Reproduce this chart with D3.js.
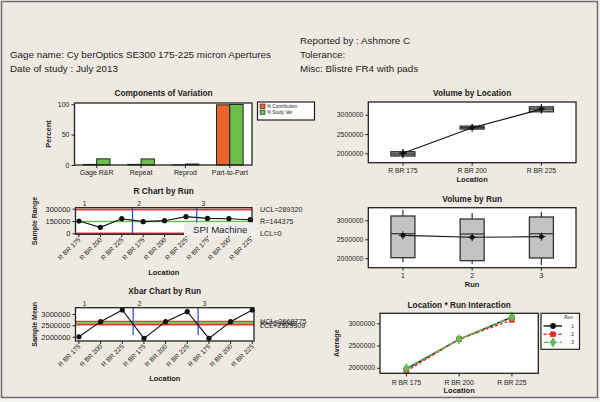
<!DOCTYPE html>
<html><head><meta charset="utf-8">
<script src="https://cdn.jsdelivr.net/npm/d3@7/dist/d3.min.js"></script>
<style>
body{margin:0;background:#fff}
svg{display:block}
text{font-family:"Liberation Sans",Arial,sans-serif;fill:#222}
</style>
</head><body>
<svg id="c" width="600" height="402"></svg>
<script>
// ---------------- DATA ----------------
const headerLeft = ["Gage name: Cy berOptics SE300 175-225 micron Apertures", "Date of study : July  2013"];
const headerRight = ["Reported by : Ashmore C", "Tolerance:", "Misc: Blistre FR4 with pads"];

const compCategories = ["Gage R&R", "Repeat", "Reprod", "Part-to-Part"];
const compSeries = ["% Contribution", "% Study Var"];
const pctContribution = [1.0, 1.0, 0.1, 99.0];
const pctStudyVar = [10.1, 10.0, 1.6, 99.6];
const compTicks = [0, 50, 100];

const locations = ["R BR 175", "R BR 200", "R BR 225"];
const runs = ["1", "2", "3"];

const rValues = [150000, 73000, 178000, 142000, 154000, 203000, 182000, 178000, 166000];
const rLimitValues = [289320, 144375, 0];           // UCL, center, LCL
const rLimitLabels = ["UCL=289320", "R\u0304=144375", "LCL=0"];
const rTicks = [0, 150000, 300000];

const xbarValues = [1995000, 2662000, 3176000, 1926000, 2662000, 3103000, 1926000, 2662000, 3176000];
const xbarLimitValues = [2668775, 2599042, 2529309]; // UCL, center, LCL
const xbarLimitLabels = ["UCL=2668775", "X\u0304=2599042", "LCL=2529309"];
const xbarTicks = [2000000, 2500000, 3000000];

const locMin  = [1871000, 2602000, 3034000];
const locQ1   = [1930000, 2628000, 3075000];
const locMed  = [1982000, 2665000, 3145000];
const locQ3   = [2041000, 2705000, 3204000];
const locMax  = [2103000, 2750000, 3274000];
const locMean = [2000000, 2661000, 3145000];

const runMin  = [1895000, 1858000, 1824000];
const runQ1   = [2016000, 1937000, 2008000];
const runMed  = [2647000, 2640000, 2647000];
const runQ3   = [3113000, 3034000, 3087000];
const runMax  = [3271000, 3192000, 3228000];
const runMean = [2603000, 2553000, 2570000];

const volTicks = [2000000, 2500000, 3000000];

const interRun1 = [1975000, 2640000, 3140000];
const interRun2 = [1925000, 2645000, 3075000];
const interRun3 = [1988000, 2640000, 3150000];

// ---------------- STYLE ----------------
const ORANGE = "#ec632c", GREEN = "#6cc04a", RED = "#e23a34", BLUE = "#3a4fd0";
const svg = d3.select("#c");

svg.append("rect").attr("width", 600).attr("height", 402).attr("fill", "#f4f2ee");
svg.append("rect").attr("x", 1.5).attr("y", 1.5).attr("width", 596).attr("height", 396)
  .attr("fill", "#eeeae1").attr("stroke", "#6e6e6e").attr("stroke-width", 1.5);

// header
headerLeft.forEach((t, i) => svg.append("text").attr("x", 10).attr("y", 57.5 + i * 14)
  .attr("font-size", 9.8).text(t));
headerRight.forEach((t, i) => svg.append("text").attr("x", 300).attr("y", 43.5 + i * 14)
  .attr("font-size", 9.8).text(t));

function title(x, y, t) {
  svg.append("text").attr("x", x).attr("y", y).attr("text-anchor", "middle")
    .attr("font-size", 8.3).attr("font-weight", "bold").text(t);
}
function plotBg(x0, y0, x1, y1) {
  svg.append("rect").attr("x", x0).attr("y", y0).attr("width", x1 - x0).attr("height", y1 - y0).attr("fill", "#fff");
}
function plotBorder(x0, y0, x1, y1) {
  svg.append("rect").attr("x", x0).attr("y", y0).attr("width", x1 - x0).attr("height", y1 - y0)
    .attr("fill", "none").attr("stroke", "#222").attr("stroke-width", 1.3);
}
function yAxis(scale, x, ticks, fs) {
  const g = svg.append("g").attr("transform", `translate(${x},0)`)
    .call(d3.axisLeft(scale).tickValues(ticks).tickSize(3).tickPadding(2).tickFormat(d3.format("d")));
  g.select(".domain").remove();
  g.selectAll("line").attr("stroke", "#222");
  g.selectAll("text").attr("font-size", fs).attr("font-family", null).attr("fill", "#222");
  g.attr("font-family", null);
}
function xTicks(pos, y, values) {
  values.forEach(v => svg.append("line").attr("x1", pos(v)).attr("x2", pos(v))
    .attr("y1", y).attr("y2", y + 3).attr("stroke", "#222"));
}
function yLabel(x, y, t, fs) {
  svg.append("text").attr("transform", `translate(${x},${y}) rotate(-90)`).attr("text-anchor", "middle")
    .attr("font-size", fs).attr("font-weight", "bold").text(t);
}
function xLabel(x, y, t) {
  svg.append("text").attr("x", x).attr("y", y).attr("text-anchor", "middle")
    .attr("font-size", 7.5).attr("font-weight", "bold").text(t);
}

// ---------------- COMPONENTS OF VARIATION ----------------
{
  const X0 = 74.5, X1 = 252, Y0 = 103, Y1 = 165;
  const x = d3.scaleBand().domain(compCategories).range([X0, X1]).paddingInner(0.4).paddingOuter(0.2);
  const xs = d3.scaleBand().domain(compSeries).range([0, x.bandwidth()]);
  const y = d3.scaleLinear().domain([0, 102]).range([Y1, Y0]);
  plotBg(X0, Y0, X1, Y1);
  const seriesVals = [pctContribution, pctStudyVar];
  const colors = [ORANGE, GREEN];
  compSeries.forEach((s, si) => {
    svg.selectAll(null).data(compCategories).enter().append("rect")
      .attr("x", d => x(d) + xs(s)).attr("width", xs.bandwidth())
      .attr("y", (d, i) => y(seriesVals[si][i])).attr("height", (d, i) => Y1 - y(seriesVals[si][i]))
      .attr("fill", colors[si]).attr("stroke", "#222").attr("stroke-width", 1);
  });
  plotBorder(X0, Y0, X1, Y1);
  yAxis(y, X0, compTicks, 7);
  xTicks(d => x(d) + x.bandwidth() / 2, Y1, compCategories);
  compCategories.forEach(c => svg.append("text").attr("x", x(c) + x.bandwidth() / 2).attr("y", 174.5)
    .attr("text-anchor", "middle").attr("font-size", 7).text(c));
  yLabel(50.5, 134, "Percent", 7.5);
  title(163.5, 96, "Components of Variation");
  // legend
  const lg = svg.append("g");
  lg.append("rect").attr("x", 257.5).attr("y", 102).attr("width", 57).attr("height", 18)
    .attr("fill", "#fff").attr("stroke", "#222").attr("stroke-width", 1.2);
  compSeries.forEach((s, i) => {
    lg.append("rect").attr("x", 260).attr("y", 104 + i * 6).attr("width", 5).attr("height", 4.5)
      .attr("fill", colors[i]).attr("stroke", "#222").attr("stroke-width", 0.6);
    lg.append("text").attr("x", 267).attr("y", 108 + i * 6).attr("font-size", 4.6).text(s);
  });
}

// ---------------- R / XBAR CHARTS ----------------
function controlChart(cfg) {
  const { X0, X1, Y0, Y1, domain, values, limits, limitColors, labels, ticks, labelYOffsets, titleY, titleText, yLab, labY, blueCut } = cfg;
  const n = values.length;
  const x = d3.scaleLinear().domain([-0.16, n - 1 + 0.08]).range([X0, X1]);
  const y = d3.scaleLinear().domain(domain).range([Y1, Y0]);
  plotBg(X0, Y0, X1, Y1);
  limits.forEach((v, i) => svg.append("line").attr("x1", X0).attr("x2", X1).attr("y1", y(v)).attr("y2", y(v))
    .attr("stroke", limitColors[i]).attr("stroke-width", 1.6));
  const groups = runs.length, per = locations.length;
  for (let k = 1; k < groups; k++) {
    svg.append("line").attr("x1", x(k * per - 0.5)).attr("x2", x(k * per - 0.5))
      .attr("y1", Y0).attr("y2", Y1 - blueCut).attr("stroke", BLUE).attr("stroke-width", 1.3);
  }
  svg.append("path").datum(values).attr("fill", "none").attr("stroke", "#111").attr("stroke-width", 1.1)
    .attr("d", d3.line().x((d, i) => x(i)).y(d => y(d)));
  svg.selectAll(null).data(values).enter().append("circle")
    .attr("cx", (d, i) => x(i)).attr("cy", d => y(d)).attr("r", 2.6).attr("fill", "#111");
  plotBorder(X0, Y0, X1, Y1);
  yAxis(y, X0, ticks, 7.5);
  const idx = d3.range(n);
  xTicks(x, Y1, idx);
  idx.forEach(i => svg.append("text")
    .attr("transform", `translate(${x(i) + 2},${Y1 + 6}) rotate(-45)`)
    .attr("text-anchor", "end").attr("font-size", 6.6).text(locations[i % per]));
  runs.forEach((r, k) => svg.append("text").attr("x", k === 0 ? X0 + 9 : x(k * per - 0.5) + 6.5)
    .attr("y", Y0 - 1.8).attr("text-anchor", "middle").attr("font-size", 6.5).text(r));
  labels.forEach((t, i) => svg.append("text").attr("x", 260).attr("y", y(limits[i]) + 2.5 + labelYOffsets[i])
    .attr("font-size", 7.2).attr("fill", "#333").text(t));
  title((X0 + X1) / 2, titleY, titleText);
  yLabel(37, (Y0 + Y1) / 2, yLab, 7);
  xLabel((X0 + X1) / 2, labY, "Location");
}

controlChart({
  X0: 75.5, X1: 252, Y0: 207.7, Y1: 234.3, domain: [-12200, 312200],
  values: rValues, limits: rLimitValues, limitColors: [RED, GREEN, RED], labels: rLimitLabels,
  ticks: rTicks, labelYOffsets: [0, 0, 0], titleY: 193.5, titleText: "R Chart by Run", yLab: "Sample Range", labY: 275, blueCut: 0
});

controlChart({
  X0: 75.5, X1: 254, Y0: 307.7, Y1: 341, domain: [1810000, 3277500],
  values: xbarValues, limits: [xbarLimitValues[0], xbarLimitValues[2], xbarLimitValues[1]],
  limitColors: [RED, RED, GREEN], labels: [xbarLimitLabels[0], xbarLimitLabels[2], xbarLimitLabels[1]],
  ticks: xbarTicks, labelYOffsets: [-0.5, 0.5, 0], titleY: 294, titleText: "Xbar Chart by Run", yLab: "Sample Mean", labY: 381, blueCut: 6
});

// SPI Machine annotation
svg.append("rect").attr("x", 184).attr("y", 222.5).attr("width", 73).attr("height", 13.5).attr("fill", "#efefed");
svg.append("text").attr("x", 193).attr("y", 233).attr("font-size", 9.6).attr("fill", "#333").text("SPI Machine");

// ---------------- BOX PLOTS ----------------
function boxPanel(cfg) {
  const { X0, X1, Y0, Y1, domain, cats, mins, q1, med, q3, maxs, means, fill, titleY, titleText, tickY, labText, labY } = cfg;
  const x = d3.scalePoint().domain(cats).range([X0, X1]).padding(0.5);
  const y = d3.scaleLinear().domain(domain).range([Y1, Y0]);
  plotBg(X0, Y0, X1, Y1);
  const bw = 24;
  cats.forEach((c, i) => {
    const cx = x(c);
    svg.append("line").attr("x1", cx).attr("x2", cx).attr("y1", y(maxs[i])).attr("y2", y(q3[i])).attr("stroke", "#333").attr("stroke-width", 1.2);
    svg.append("line").attr("x1", cx).attr("x2", cx).attr("y1", y(q1[i])).attr("y2", y(mins[i])).attr("stroke", "#333").attr("stroke-width", 1.2);
    svg.append("rect").attr("x", cx - bw / 2).attr("width", bw).attr("y", y(q3[i])).attr("height", y(q1[i]) - y(q3[i]))
      .attr("fill", fill).attr("stroke", "#333").attr("stroke-width", 1.3);
    svg.append("line").attr("x1", cx - bw / 2).attr("x2", cx + bw / 2).attr("y1", y(med[i])).attr("y2", y(med[i]))
      .attr("stroke", "#333").attr("stroke-width", 1.2);
  });
  svg.append("path").datum(means).attr("fill", "none").attr("stroke", "#111").attr("stroke-width", 1.1)
    .attr("d", d3.line().x((d, i) => x(cats[i])).y(d => y(d)));
  means.forEach((m, i) => {
    const cx = x(cats[i]), cy = y(m);
    svg.append("circle").attr("cx", cx).attr("cy", cy).attr("r", 2.4).attr("fill", "#111");
    svg.append("path").attr("d", `M${cx - 4},${cy}H${cx + 4}M${cx},${cy - 4}V${cy + 4}`).attr("stroke", "#111").attr("stroke-width", 1);
  });
  plotBorder(X0, Y0, X1, Y1);
  yAxis(y, X0, volTicks, 6.8);
  xTicks(x, Y1, cats);
  cats.forEach(c => svg.append("text").attr("x", x(c)).attr("y", tickY).attr("text-anchor", "middle")
    .attr("font-size", 6.8).text(c));
  title((X0 + X1) / 2, titleY, titleText);
  xLabel((X0 + X1) / 2, labY, labText);
}

boxPanel({
  X0: 368.3, X1: 576, Y0: 102, Y1: 162.7, domain: [1756500, 3329000], cats: locations,
  mins: locMin, q1: locQ1, med: locMed, q3: locQ3, maxs: locMax, means: locMean, fill: "#9a9a9a",
  titleY: 96, titleText: "Volume by Location", tickY: 172.5, labText: "Location", labY: 182.3
});
boxPanel({
  X0: 368.3, X1: 576, Y0: 207.7, Y1: 267.7, domain: [1752600, 3331600], cats: runs,
  mins: runMin, q1: runQ1, med: runMed, q3: runQ3, maxs: runMax, means: runMean, fill: "#c3c3c3",
  titleY: 201.8, titleText: "Volume by Run", tickY: 277.5, labText: "Run", labY: 287.3
});

// ---------------- INTERACTION ----------------
{
  const X0 = 380, X1 = 538.3, Y0 = 313.3, Y1 = 373.3;
  const x = d3.scalePoint().domain(locations).range([X0, X1]).padding(0.5);
  const y = d3.scaleLinear().domain([1876000, 3225000]).range([Y1, Y0]);
  plotBg(X0, Y0, X1, Y1);
  const series = [interRun1, interRun2, interRun3];
  const cols = ["#111", "#ee2a24", "#5cbf55"];
  const dashes = [null, "3,2", "6,2"];
  const sym = [d3.symbolCircle, d3.symbolSquare, d3.symbolDiamond];
  const sizes = [26, 30, 34];
  series.forEach((s, si) => {
    svg.append("path").datum(s).attr("fill", "none").attr("stroke", cols[si]).attr("stroke-width", 1.4)
      .attr("stroke-dasharray", dashes[si]).attr("d", d3.line().x((d, i) => x(locations[i])).y(d => y(d)));
    s.forEach((v, i) => svg.append("path").attr("d", d3.symbol().type(sym[si]).size(sizes[si])())
      .attr("transform", `translate(${x(locations[i])},${y(v)})`).attr("fill", cols[si]));
  });
  plotBorder(X0, Y0, X1, Y1);
  yAxis(y, X0, volTicks, 6.8);
  xTicks(x, Y1, locations);
  locations.forEach(c => svg.append("text").attr("x", x(c)).attr("y", 385.2).attr("text-anchor", "middle")
    .attr("font-size", 6.8).text(c));
  title((X0 + X1) / 2, 307.8, "Location * Run Interaction");
  xLabel((X0 + X1) / 2, 393, "Location");
  yLabel(339, (Y0 + Y1) / 2, "Average", 7);
  // legend
  svg.append("rect").attr("x", 541).attr("y", 313.3).attr("width", 38.5).attr("height", 36)
    .attr("fill", "#fff").attr("stroke", "#222").attr("stroke-width", 1.2);
  svg.append("text").attr("x", 568.5).attr("y", 318.5).attr("text-anchor", "middle").attr("font-size", 4.6).text("Run");
  runs.forEach((r, i) => {
    const ly = 326 + i * 8.2;
    svg.append("line").attr("x1", 543.5).attr("x2", 562).attr("y1", ly).attr("y2", ly)
      .attr("stroke", cols[i]).attr("stroke-width", 1.4).attr("stroke-dasharray", dashes[i]);
    svg.append("path").attr("d", d3.symbol().type(sym[i]).size(sizes[i])())
      .attr("transform", `translate(553,${ly})`).attr("fill", cols[i]);
    svg.append("text").attr("x", 572.5).attr("y", ly + 1.7).attr("text-anchor", "middle").attr("font-size", 4.8).text(r);
  });
}
</script>
</body></html>
